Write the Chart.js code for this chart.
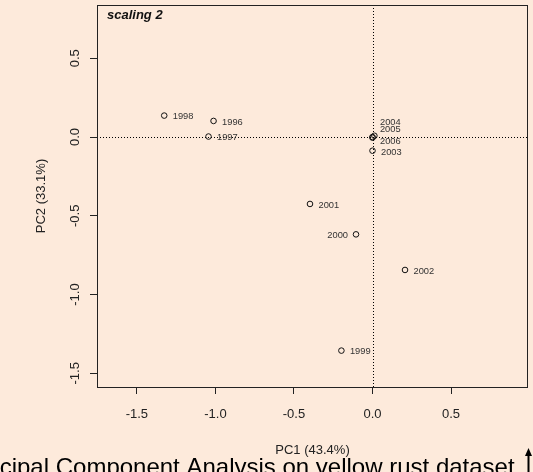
<!DOCTYPE html>
<html>
<head>
<meta charset="utf-8">
<script src="https://cdn.jsdelivr.net/npm/chart.js@4/dist/chart.umd.min.js"></script>
<style>
  html, body { margin: 0; padding: 0; background: #FDEADB; }
  canvas { display: block; }
</style>
</head>
<body>
<canvas id="pca" width="533" height="472"></canvas>
<script>
// PCA scores (scaling 2)
const years = ["1996", "1997", "1998", "1999", "2000", "2001", "2002", "2003", "2004", "2005", "2006"];
const pc1 = [-1.012, -1.044, -1.326, -0.198, -0.105, -0.398, 0.207, 0.0, 0.0, 0.012, 0.0];
const pc2 = [0.102, 0.003, 0.136, -1.356, -0.618, -0.425, -0.844, -0.087, 0.0, 0.008, -0.004];

const xTicks = [-1.5, -1.0, -0.5, 0.0, 0.5];
const yTicks = [-1.5, -1.0, -0.5, 0.0, 0.5];

const FONT = "'Liberation Sans', Arial, sans-serif";
const BG = "#FDEADB";

// where each year label sits relative to its point
const labelPlace = {
  "2000": { dx: -8, dy: 1.5, align: "right" },
  "2004": { dx: 7.5, dy: -14.5, align: "left" },
  "2005": { dx: 5.5, dy: -6.5, align: "left" },
  "2006": { dx: 7.5, dy: 4, align: "left" }
};

const points = years.map((y, i) => ({ x: pc1[i], y: pc2[i] }));

const pcaPlugin = {
  id: "pcaDecor",
  beforeDraw(chart) {
    const ctx = chart.ctx;
    ctx.save();
    ctx.fillStyle = BG;
    ctx.fillRect(0, 0, chart.width, chart.height);
    ctx.restore();
  },
  beforeDatasetsDraw(chart) {
    const { ctx, chartArea: a, scales } = chart;
    const x0 = Math.round(scales.x.getPixelForValue(0)) + 0.5;
    const y0 = Math.round(scales.y.getPixelForValue(0)) + 0.5;
    ctx.save();
    ctx.strokeStyle = "#000";
    ctx.lineWidth = 1;
    ctx.setLineDash([1, 2]);
    ctx.beginPath();
    ctx.moveTo(x0, a.top);
    ctx.lineTo(x0, a.bottom);
    ctx.moveTo(a.left, y0);
    ctx.lineTo(a.right, y0);
    ctx.stroke();
    ctx.restore();
  },
  afterDatasetsDraw(chart) {
    const ctx = chart.ctx;
    const meta = chart.getDatasetMeta(0);
    ctx.save();
    ctx.font = "9.3px " + FONT;
    ctx.fillStyle = "#333";
    ctx.textBaseline = "middle";
    meta.data.forEach((pt, i) => {
      const p = labelPlace[years[i]] || { dx: 8.5, dy: 1.3, align: "left" };
      ctx.textAlign = p.align;
      ctx.fillText(years[i], pt.x + p.dx, pt.y + p.dy);
    });
    ctx.restore();
  },
  afterDraw(chart) {
    const { ctx, chartArea: a } = chart;
    ctx.save();
    // plot box
    ctx.strokeStyle = "#222";
    ctx.lineWidth = 1;
    ctx.strokeRect(a.left + 0.5, a.top + 0.5, a.right - a.left - 1, a.bottom - a.top);
    // sub-title
    ctx.fillStyle = "#111";
    ctx.font = "italic bold 13px " + FONT;
    ctx.textBaseline = "middle";
    ctx.textAlign = "left";
    ctx.fillText("scaling 2", a.left + 10, a.top + 10);
    // main title, cut off at the bottom
    ctx.font = "24px " + FONT;
    ctx.textBaseline = "alphabetic";
    ctx.fillStyle = "#000";
    ctx.fillText("Principal Component Analysis on yellow rust dataset", -43, 475);
    // arrow at the lower right
    ctx.lineWidth = 2;
    ctx.strokeStyle = "#000";
    ctx.beginPath();
    ctx.moveTo(528.5, 472);
    ctx.lineTo(528.5, 454);
    ctx.stroke();
    ctx.beginPath();
    ctx.moveTo(528.5, 448);
    ctx.lineTo(525, 456);
    ctx.lineTo(532, 456);
    ctx.closePath();
    ctx.fill();
    ctx.restore();
  }
};

new Chart(document.getElementById("pca"), {
  type: "scatter",
  data: {
    datasets: [{
      label: "scores",
      data: points,
      pointRadius: 2.8,
      pointHoverRadius: 2.8,
      pointBorderWidth: 1,
      pointBackgroundColor: "rgba(0,0,0,0)",
      pointBorderColor: "#111"
    }]
  },
  options: {
    responsive: false,
    animation: false,
    devicePixelRatio: 1,
    layout: { padding: { left: 0, top: 5, right: 5, bottom: 0 } },
    plugins: {
      legend: { display: false },
      tooltip: { enabled: false },
      title: { display: false }
    },
    scales: {
      x: {
        type: "linear",
        min: -1.754,
        max: 0.99,
        afterBuildTicks: (s) => { s.ticks = xTicks.map((v) => ({ value: v })); },
        afterFit: (s) => { s.height = 85; s.paddingLeft = 0; s.paddingRight = 0; },
        grid: { drawOnChartArea: false, drawTicks: true, tickLength: 7, color: "#222" },
        border: { display: false },
        ticks: {
          padding: 13,
          color: "#222",
          font: { family: FONT, size: 13 },
          maxRotation: 0,
          callback: (v) => Number(v).toFixed(1)
        },
        title: {
          display: true,
          text: "PC1 (43.4%)",
          color: "#222",
          font: { family: FONT, size: 13 },
          padding: { top: 0, bottom: 14.2 }
        }
      },
      y: {
        type: "linear",
        min: -1.587,
        max: 0.838,
        afterBuildTicks: (s) => { s.ticks = yTicks.map((v) => ({ value: v })); },
        afterFit: (s) => { s.width = 97; s.paddingTop = 0; s.paddingBottom = 0; },
        grid: { drawOnChartArea: false, drawTicks: true, tickLength: 7, color: "#222" },
        border: { display: false },
        ticks: {
          padding: 3,
          color: "#222",
          font: { family: FONT, size: 13 },
          minRotation: 90,
          maxRotation: 90,
          crossAlign: "center",
          callback: (v) => Number(v).toFixed(1)
        },
        title: {
          display: true,
          text: "PC2 (33.1%)",
          color: "#222",
          font: { family: FONT, size: 13 },
          padding: { top: 33.9, bottom: 0 }
        }
      }
    }
  },
  plugins: [pcaPlugin]
});
</script>
</body>
</html>
